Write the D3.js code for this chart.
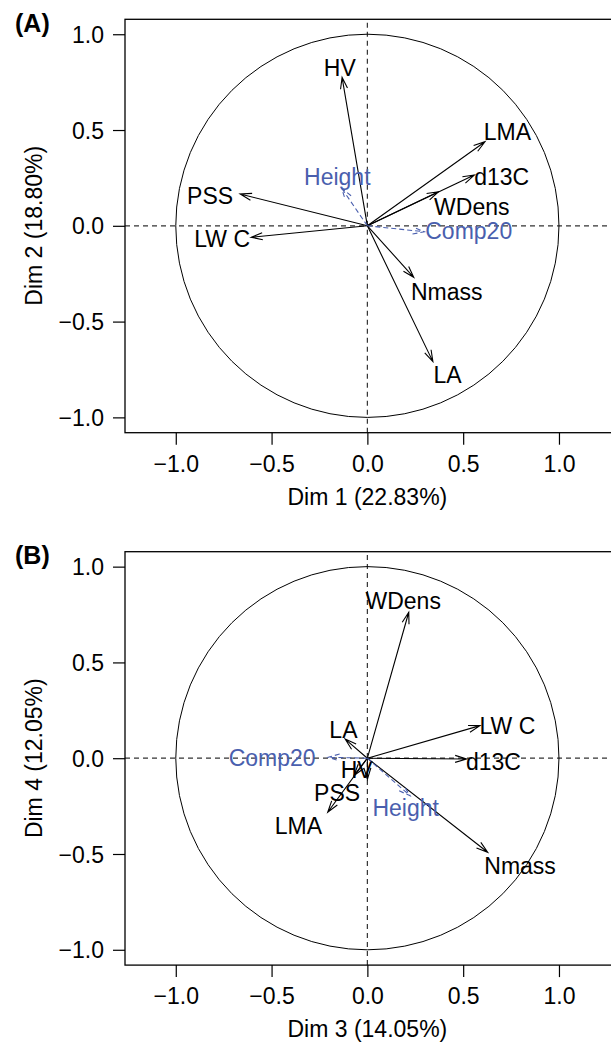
<!DOCTYPE html>
<html>
<head>
<meta charset="utf-8">
<script src="https://cdn.jsdelivr.net/npm/d3@7"></script>
<style>
    body { margin: 0; background: white; }
    svg { display: block; font-family: "Liberation Sans", Arial, Helvetica, sans-serif; }
</style>
</head>
<body>
<div id="vis"></div>
<script>
// Correlation circles, PCA of traits

// variable names, the two last ones are supplementary (dashed blue)
var varNames = [ "HV", "LMA", "d13C", "WDens", "PSS", "LW C", "Nmass", "LA", "Height", "Comp20" ];
var supNames = [ "Height", "Comp20" ];

// panel A : Dim 1 / Dim 2 coordinates
var dim1 = [ -0.132, 0.614, 0.558, 0.371, -0.664, -0.607, 0.242, 0.342, -0.134, 0.297 ];
var dim2 = [ 0.775, 0.439, 0.265, 0.178, 0.166, -0.060, -0.269, -0.709, 0.196, -0.031 ];
// where the labels sit, in the same units
var labA1 = [ -0.144, 0.731, 0.701, 0.545, -0.821, -0.758, 0.414, 0.419, -0.157, 0.529 ];
var labA2 = [ 0.822, 0.488, 0.256, 0.100, 0.156, -0.070, -0.346, -0.777, 0.253, -0.027 ];

// panel B : Dim 3 / Dim 4 coordinates
var dim3 = [ 0.0, -0.207, 0.518, 0.216, -0.07, 0.588, 0.628, -0.116, 0.223, -0.205 ];
var dim4 = [ -0.11, -0.282, -0.004, 0.762, -0.09, 0.170, -0.491, 0.100, -0.196, 0.005 ];
var labB1 = [ -0.056, -0.36, 0.658, 0.187, -0.158, 0.731, 0.797, -0.125, 0.2, -0.497 ];
var labB2 = [ -0.062, -0.355, -0.018, 0.819, -0.183, 0.166, -0.561, 0.149, -0.26, 0.001 ];

var tickValues = [ -1, -0.5, 0, 0.5, 1 ];
var panels = [ "(A)", "(B)" ];
var xTitles = [ "Dim 1 (22.83%)", "Dim 3 (14.05%)" ];
var yTitles = [ "Dim 2 (18.80%)", "Dim 4 (12.05%)" ];

var blue = "#4a5fae";
var fontSize = 23;

var svg = d3.select( "#vis" ).append( "svg" )
    .attr( "width", 611 )
    .attr( "height", 1042 );

// the two panels share the scales, panel B is only shifted down
var x = d3.scaleLinear().domain( [ -1.265, 1.282 ] ).range( [ 125, 613 ] );
var y = d3.scaleLinear().domain( [ -1.08, 1.078 ] ).range( [ 432.7, 19.3 ] );

function build( dx, dy, lx, ly )
{
    var data = [];
    for( var i = 0 ; i < varNames.length ; i++ )
        data.push( { name: varNames[ i ], x: dx[ i ], y: dy[ i ], lx: lx[ i ], ly: ly[ i ],
                     sup: supNames.indexOf( varNames[ i ] ) >= 0 } );
    return data;
}

function draw_panel( k, data, offset )
{
    var g = svg.append( "g" ).attr( "transform", "translate(0," + offset + ")" );

    // panel letter
    g.append( "text" )
        .attr( "x", 15 )
        .attr( "y", 23 )
        .attr( "dy", "0.35em" )
        .style( "font-size", "25px" )
        .style( "font-weight", "bold" )
        .text( panels[ k ] );

    // dashed lines through the origin
    g.append( "line" )
        .attr( "x1", x.range()[ 0 ] ).attr( "x2", x.range()[ 1 ] )
        .attr( "y1", y( 0 ) ).attr( "y2", y( 0 ) )
        .attr( "stroke", "#333" ).attr( "stroke-width", 1.2 )
        .attr( "stroke-dasharray", "5,4" );
    g.append( "line" )
        .attr( "x1", x( 0 ) ).attr( "x2", x( 0 ) )
        .attr( "y1", y.range()[ 0 ] ).attr( "y2", y.range()[ 1 ] )
        .attr( "stroke", "#333" ).attr( "stroke-width", 1.2 )
        .attr( "stroke-dasharray", "5,4" );

    // unit circle
    g.append( "circle" )
        .attr( "cx", x( 0 ) )
        .attr( "cy", y( 0 ) )
        .attr( "r", x( 1 ) - x( 0 ) )
        .attr( "fill", "none" )
        .attr( "stroke", "black" )
        .attr( "stroke-width", 1 );

    // arrows
    var arrows = g.selectAll( ".arrow" )
        .data( data )
        .enter().append( "g" )
        .attr( "class", "arrow" );

    arrows.append( "path" )
        .attr( "fill", "none" )
        .attr( "stroke", function( d ) { return d.sup ? blue : "black"; } )
        .attr( "stroke-width", 1.1 )
        .attr( "stroke-dasharray", function( d ) { return d.sup ? "5,3" : null; } )
        .attr( "d", function( d ) {
            var x0 = x( 0 ), y0 = y( 0 ), x1 = x( d.x ), y1 = y( d.y );
            var a = Math.atan2( y1 - y0, x1 - x0 );
            var len = 12, ang = 17 * Math.PI / 180;
            var p = "M" + x0 + "," + y0 + "L" + x1 + "," + y1;
            p += "M" + ( x1 - len * Math.cos( a - ang ) ) + "," + ( y1 - len * Math.sin( a - ang ) );
            p += "L" + x1 + "," + y1;
            p += "L" + ( x1 - len * Math.cos( a + ang ) ) + "," + ( y1 - len * Math.sin( a + ang ) );
            return p;
        });

    arrows.append( "text" )
        .attr( "x", function( d ) { return x( d.lx ); } )
        .attr( "y", function( d ) { return y( d.ly ); } )
        .attr( "dy", "0.35em" )
        .style( "text-anchor", "middle" )
        .style( "font-size", fontSize + "px" )
        .style( "fill", function( d ) { return d.sup ? blue : "black"; } )
        .text( function( d ) { return d.name; } );

    // box
    g.append( "rect" )
        .attr( "x", x.range()[ 0 ] )
        .attr( "y", y.range()[ 1 ] )
        .attr( "width", x.range()[ 1 ] - x.range()[ 0 ] )
        .attr( "height", y.range()[ 0 ] - y.range()[ 1 ] )
        .attr( "fill", "none" )
        .attr( "stroke", "black" )
        .attr( "stroke-width", 1.3 );

    // x axis
    var xa = g.append( "g" )
        .attr( "transform", "translate(0," + y.range()[ 0 ] + ")" )
        .call( d3.axisBottom( x ).tickValues( tickValues ).tickSize( 12 ).tickFormat( d3.format( ".1f" ) ) );
    xa.select( ".domain" ).remove();
    xa.selectAll( "line" ).attr( "stroke", "black" ).attr( "stroke-width", 1.2 );
    xa.selectAll( "text" )
        .attr( "y", 31 )
        .attr( "dy", "0.35em" )
        .style( "font-size", fontSize + "px" )
        .style( "font-family", "Liberation Sans, Arial, sans-serif" )
        .attr( "fill", "black" );

    // y axis
    var ya = g.append( "g" )
        .attr( "transform", "translate(" + x.range()[ 0 ] + ",0)" )
        .call( d3.axisLeft( y ).tickValues( tickValues ).tickSize( 12 ).tickPadding( 9 ).tickFormat( d3.format( ".1f" ) ) );
    ya.select( ".domain" ).remove();
    ya.selectAll( "line" ).attr( "stroke", "black" ).attr( "stroke-width", 1.2 );
    ya.selectAll( "text" )
        .attr( "dy", "0.35em" )
        .style( "font-size", fontSize + "px" )
        .style( "font-family", "Liberation Sans, Arial, sans-serif" )
        .attr( "fill", "black" );

    // axis titles
    g.append( "text" )
        .attr( "x", x( 0 ) )
        .attr( "y", y.range()[ 0 ] + 64 )
        .attr( "dy", "0.35em" )
        .style( "text-anchor", "middle" )
        .style( "font-size", fontSize + "px" )
        .text( xTitles[ k ] );

    g.append( "text" )
        .attr( "transform", "translate(34," + y( 0 ) + ") rotate(-90)" )
        .attr( "dy", "0.35em" )
        .style( "text-anchor", "middle" )
        .style( "font-size", fontSize + "px" )
        .text( yTitles[ k ] );
}

draw_panel( 0, build( dim1, dim2, labA1, labA2 ), 0 );
draw_panel( 1, build( dim3, dim4, labB1, labB2 ), 532.4 );
</script>
</body>
</html>
